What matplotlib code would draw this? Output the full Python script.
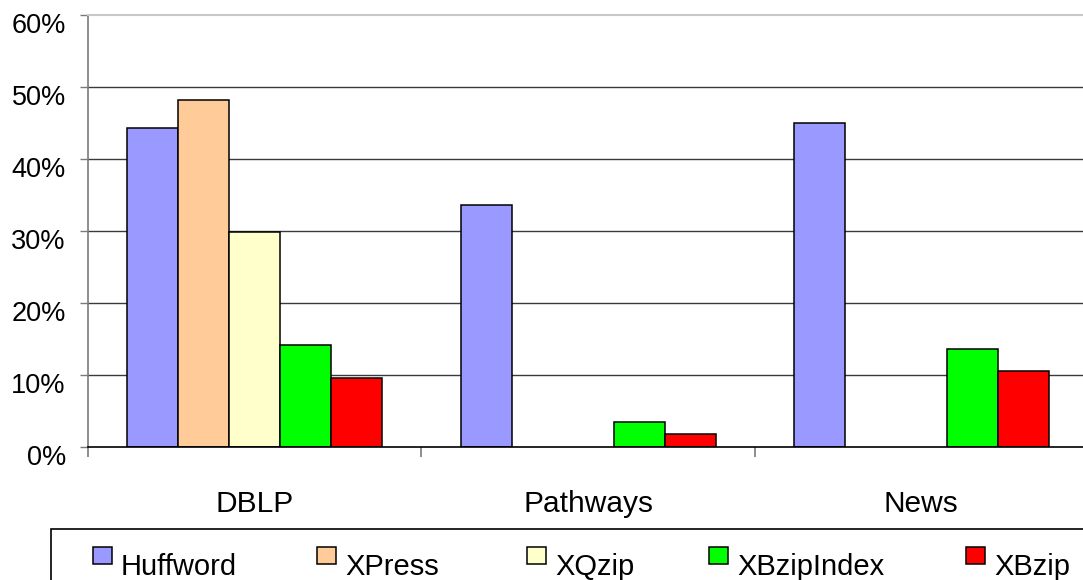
import numpy as np
import matplotlib
matplotlib.use("Agg")
import matplotlib.pyplot as plt
import matplotlib.transforms as mtransforms
from matplotlib.patches import Rectangle

plt.rcParams["font.family"] = ["Liberation Sans", "DejaVu Sans"]

# Compression ratio (%) per dataset and compressor
datasets = ["DBLP", "Pathways", "News"]
series_names = ["Huffword", "XPress", "XQzip", "XBzipIndex", "XBzip"]
huffword = [44.3, 33.6, 45.0]
xpress = [48.2, np.nan, np.nan]
xqzip = [29.9, np.nan, np.nan]
xbzipindex = [14.2, 3.5, 13.6]
xbzip = [9.6, 1.8, 10.6]
yticks = [0, 10, 20, 30, 40, 50, 60]
ytick_labels = ["0%", "10%", "20%", "30%", "40%", "50%", "60%"]

series_values = [huffword, xpress, xqzip, xbzipindex, xbzip]
colors = ["#9999FF", "#FFCC99", "#FFFFCC", "#00FF00", "#FF0000"]

W, H = 1083, 580
fig = plt.figure(figsize=(W / 100, H / 100), dpi=100)
ax = fig.add_axes([88 / W, 1 - 447 / H, 1000 / W, 432 / H])

x = np.arange(len(datasets))
bar_w = 0.153
for i, (vals, c) in enumerate(zip(series_values, colors)):
    ax.bar(x + (i - 2) * bar_w, vals, width=bar_w, color=c,
           edgecolor="black", linewidth=1.1, zorder=3)

ax.set_xlim(-0.5, 2.5)
ax.set_ylim(0, 60)

# horizontal gridlines
for v in yticks[1:-1]:
    ax.axhline(v, color="#3a3a3a", linewidth=1.0, zorder=1)

ax.spines["right"].set_visible(False)
ax.spines["top"].set_color("#c8c8c8")
ax.spines["top"].set_linewidth(1.5)
ax.spines["left"].set_color("#7a7a7a")
ax.spines["left"].set_linewidth(1.2)
ax.spines["bottom"].set_color("black")
ax.spines["bottom"].set_linewidth(1.2)
ax.spines["bottom"].set_zorder(4)

ax.set_yticks(yticks)
ax.set_yticklabels(ytick_labels, fontsize=19.5)
ax.tick_params(axis="y", direction="out", length=6, width=1, color="#7a7a7a", pad=10)
offset = mtransforms.ScaledTranslation(0, -8 / 100, fig.dpi_scale_trans)
for lab in ax.get_yticklabels():
    lab.set_transform(lab.get_transform() + offset)

ax.set_xticks(x)
ax.set_xticklabels(datasets, fontsize=21.5)
ax.tick_params(axis="x", which="major", length=0, pad=31)
ax.set_xticks([-0.5, 0.5, 1.5, 2.5], minor=True)
ax.tick_params(axis="x", which="minor", direction="out", length=7, width=1.2, color="#7a7a7a")

# legend box and entries
fig.add_artist(Rectangle((51 / W, -0.1), 1.2, (580 - 529) / H + 0.1,
                         transform=fig.transFigure, facecolor="none",
                         edgecolor="black", linewidth=1.2))
legend_x = [93, 317, 527, 709, 966]
for name, c, lx in zip(series_names, colors, legend_x):
    fig.add_artist(Rectangle((lx / W, 1 - 564 / H), 19 / W, 17 / H,
                             transform=fig.transFigure, facecolor=c,
                             edgecolor="black", linewidth=1.1))
    fig.text((lx + 28) / W, 1 - 575 / H, name, fontsize=21, va="baseline", ha="left")

fig.savefig("out.png", dpi=100)
